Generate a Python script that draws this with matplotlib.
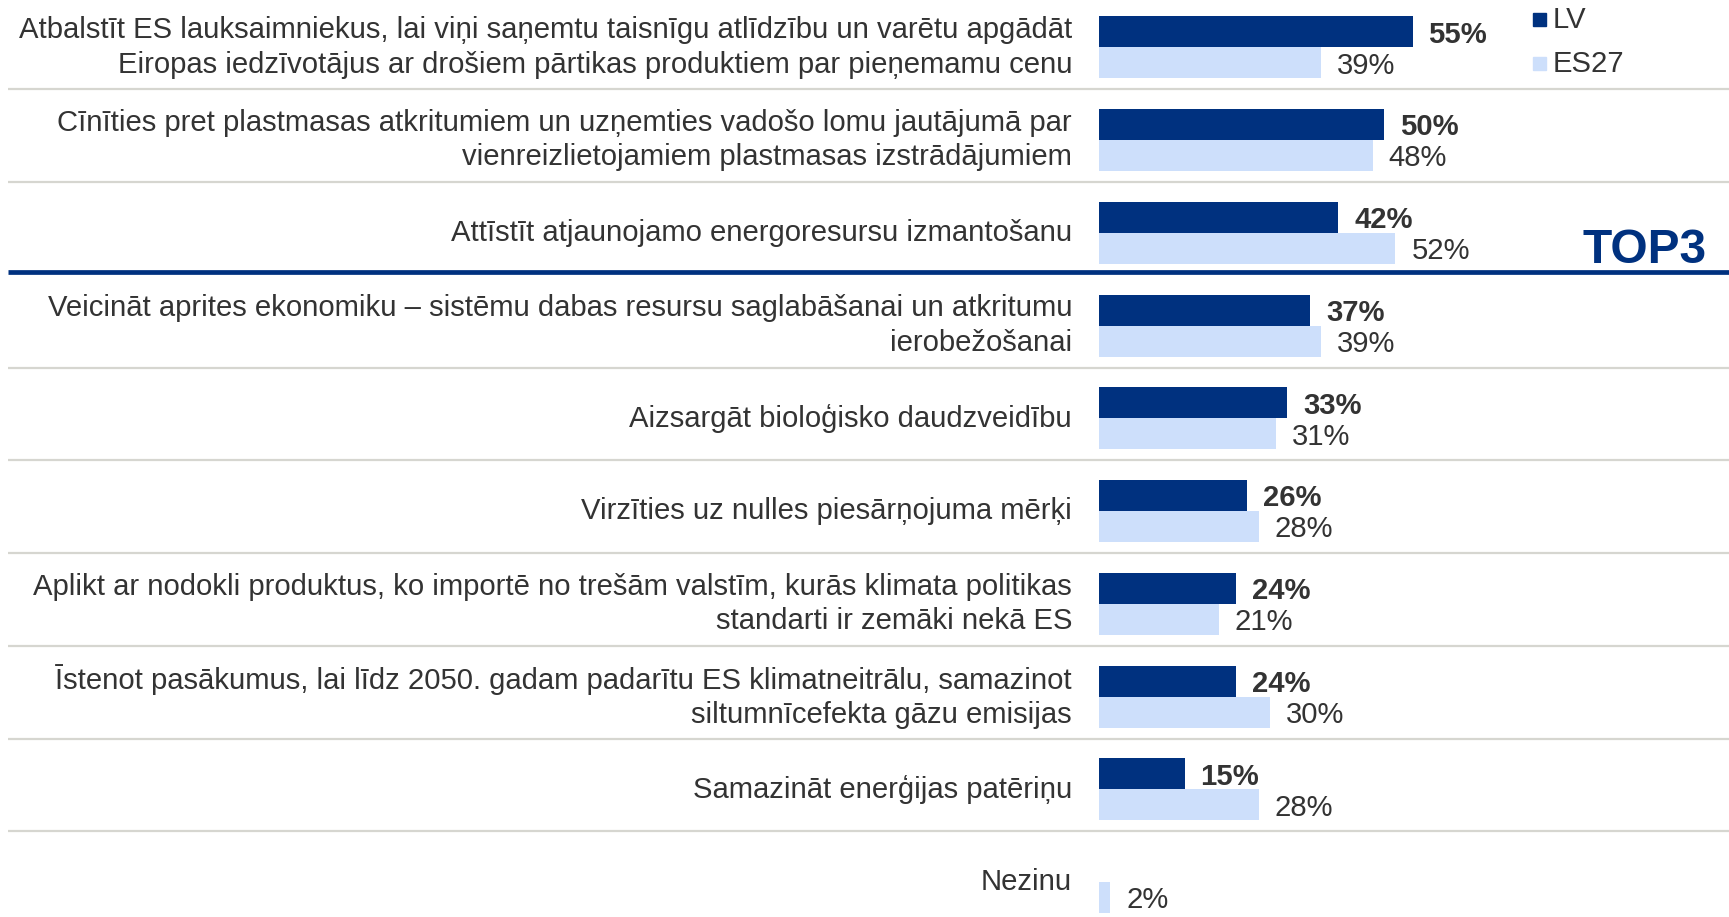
import matplotlib
matplotlib.use("Agg")
import matplotlib.pyplot as plt
from matplotlib.patches import Rectangle

plt.rcParams['font.family'] = ['Liberation Sans', 'DejaVu Sans']

categories = [
    "Atbalstīt ES lauksaimniekus, lai viņi saņemtu taisnīgu atlīdzību un varētu apgādāt\nEiropas iedzīvotājus ar drošiem pārtikas produktiem par pieņemamu cenu",
    "Cīnīties pret plastmasas atkritumiem un uzņemties vadošo lomu jautājumā par\nvienreizlietojamiem plastmasas izstrādājumiem",
    "Attīstīt atjaunojamo energoresursu izmantošanu",
    "Veicināt aprites ekonomiku – sistēmu dabas resursu saglabāšanai un atkritumu\nierobežošanai",
    "Aizsargāt bioloģisko daudzveidību",
    "Virzīties uz nulles piesārņojuma mērķi",
    "Aplikt ar nodokli produktus, ko importē no trešām valstīm, kurās klimata politikas\nstandarti ir zemāki nekā ES",
    "Īstenot pasākumus, lai līdz 2050. gadam padarītu ES klimatneitrālu, samazinot\nsiltumnīcefekta gāzu emisijas",
    "Samazināt enerģijas patēriņu",
    "Nezinu",
]
lv_values = [55, 50, 42, 37, 33, 26, 24, 24, 15, None]
es27_values = [39, 48, 52, 39, 31, 28, 21, 30, 28, 2]
series_names = ["LV", "ES27"]
highlight_label = "TOP3"
top_n = 3

LV_COLOR = "#00317f"
ES_COLOR = "#cddffb"
TEXT_COLOR = "#333333"
GRID_COLOR = "#d6d6d0"

W, H, DPI = 1729, 917, 100
fig = plt.figure(figsize=(W / DPI, H / DPI), dpi=DPI)
ax = fig.add_axes([0, 0, 1, 1])
ax.set_axis_off()

# pixel geometry -> data scales
x0_px, px_per_pct = 1099, 5.7
row0_px, pitch_px = 47.4, 92.75
ax.set_xlim(-x0_px / px_per_pct, (W - x0_px) / px_per_pct)
ax.set_ylim((H - row0_px) / pitch_px, -row0_px / pitch_px)

FS = 21.1
bar_h = 30.9 / pitch_px
gap = 16 / px_per_pct
label_x = (1072 - x0_px) / px_per_pct
line_left = (8 - x0_px) / px_per_pct
xmax = ax.get_xlim()[1]

n = len(categories)
for i in range(n):
    lv = lv_values[i]
    es = es27_values[i]
    if lv is not None:
        ax.barh(i - bar_h / 2, lv, height=bar_h, color=LV_COLOR, edgecolor="none")
        ax.text(lv + gap, i - bar_h / 2 + 0.03, f"{lv}%", ha="left", va="center",
                fontsize=FS, fontweight="bold", color=TEXT_COLOR)
    if es is not None:
        ax.barh(i + bar_h / 2, es, height=bar_h, color=ES_COLOR, edgecolor="none")
        ax.text(es + gap, i + bar_h / 2 + 0.03, f"{es}%", ha="left", va="center",
                fontsize=FS, color=TEXT_COLOR)
    ax.text(label_x, i, categories[i], ha="right", va="center", fontsize=FS,
            color=TEXT_COLOR, linespacing=1.29)
    if i < n - 1:
        if i == top_n - 1:
            ax.plot([line_left, xmax], [i + 0.42, i + 0.42], color=LV_COLOR,
                    lw=3.4, solid_capstyle="butt", clip_on=False)
        else:
            ax.plot([line_left, xmax], [i + 0.452, i + 0.452], color=GRID_COLOR,
                    lw=1.6, solid_capstyle="butt", clip_on=False)

# TOP3 label
ax.text((1707 - x0_px) / px_per_pct, (263 - row0_px) / pitch_px, highlight_label,
        ha="right", va="baseline", fontsize=34.5, fontweight="bold", color=LV_COLOR)

# legend (manual)
sq_w = 13 / px_per_pct
sq_h = 13 / pitch_px
leg_x = (1533 - x0_px) / px_per_pct
for k, (name, col) in enumerate(zip(series_names, [LV_COLOR, ES_COLOR])):
    yc = (19.8 + k * 44.2 - row0_px) / pitch_px
    ax.add_patch(Rectangle((leg_x, yc - sq_h / 2), sq_w, sq_h, color=col, clip_on=False))
    ax.text(leg_x + sq_w + 7 / px_per_pct, yc, name, ha="left", va="center",
            fontsize=FS, color=TEXT_COLOR)

fig.savefig("out.png", dpi=DPI)
